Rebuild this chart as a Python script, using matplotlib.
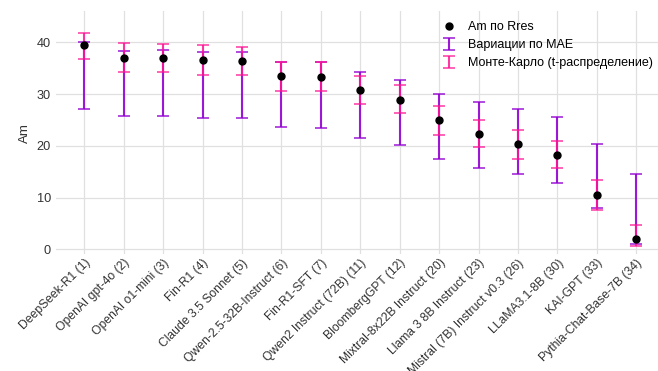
import matplotlib
matplotlib.use("Agg")
import matplotlib.pyplot as plt
import numpy as np

plt.rcParams['font.family'] = ['Liberation Sans', 'DejaVu Sans']

models = ["DeepSeek-R1 (1)", "OpenAI gpt-4o (2)", "OpenAI o1-mini (3)", "Fin-R1 (4)",
          "Claude 3.5 Sonnet (5)", "Qwen-2.5-32B-Instruct (6)", "Fin-R1-SFT (7)",
          "Qwen2 Instruct (72B) (11)", "BloombergGPT (12)", "Mixtral-8x22B Instruct (20)",
          "Llama 3 8B Instruct (23)", "Mistral (7B) Instruct v0.3 (26)", "LLaMA3.1-8B (30)",
          "KAI-GPT (33)", "Pythia-Chat-Base-7B (34)"]

am_rres = [39.5, 36.9, 36.9, 36.5, 36.4, 33.4, 33.3, 30.8, 28.9, 24.9, 22.3, 20.3, 18.2, 10.5, 2.0]

mae_low = [27.2, 25.8, 25.8, 25.4, 25.4, 23.6, 23.4, 21.6, 20.2, 17.4, 15.8, 14.5, 12.9, 8.0, 1.0]
mae_high = [40.1, 38.4, 38.5, 38.1, 38.1, 36.2, 36.2, 34.2, 32.8, 30.0, 28.4, 27.1, 25.6, 20.3, 14.5]

mc_low = [36.7, 34.2, 34.2, 33.6, 33.6, 30.6, 30.6, 28.1, 26.3, 22.0, 19.7, 17.5, 15.7, 7.7, 0.6]
mc_high = [41.8, 39.8, 39.6, 39.4, 39.1, 36.2, 36.1, 33.5, 31.8, 27.7, 24.9, 23.1, 20.9, 13.4, 4.8]

x = np.arange(len(models))
am = np.array(am_rres)

fig = plt.figure(figsize=(6.58, 3.71), dpi=100)
ax = fig.add_axes([0.085, 0.315, 0.915, 0.655])

purple = "#9400D3"
pink = "#FF1493"

ax.errorbar(x, am, yerr=[am - np.array(mae_low), np.array(mae_high) - am],
            fmt='none', ecolor=purple, elinewidth=1.5, capsize=4.5, capthick=1.1,
            alpha=0.9, label="Вариации по MAE", zorder=3)
ax.errorbar(x, am, yerr=[am - np.array(mc_low), np.array(mc_high) - am],
            fmt='none', ecolor=pink, elinewidth=1.5, capsize=4.5, capthick=1.1,
            alpha=0.85, label="Монте-Карло (t-распределение)", zorder=4)
ax.plot(x, am, 'o', color='black', markersize=5, label="Am по Rres", zorder=5)

ax.set_xlim(-0.72, 14.55)
ax.set_ylim(-0.9, 46)
ax.set_yticks([0, 10, 20, 30, 40])
ax.set_xticks(x)
ax.set_xticklabels(models, rotation=45, ha='right', rotation_mode='anchor', fontsize=8.7, color='#333333')
ax.tick_params(axis='both', length=0, colors='#333333')
ax.tick_params(axis='y', labelsize=9.2)
ax.tick_params(axis='x', pad=2)
ax.set_ylabel("Am", fontsize=9.5, color='#333333', labelpad=4)

ax.grid(True, color='#e0e0e0', linewidth=0.9, zorder=0)
ax.set_axisbelow(True)
for s in ax.spines.values():
    s.set_visible(False)

handles, labels = ax.get_legend_handles_labels()
want = ["Am по Rres", "Вариации по MAE", "Монте-Карло (t-распределение)"]
idx = [labels.index(w) for w in want]
ax.legend([handles[i] for i in idx], [labels[i] for i in idx],
          loc='upper right', bbox_to_anchor=(1.0, 0.98), borderaxespad=0.0,
          frameon=False, fontsize=9, handlelength=1.0, handletextpad=1.0,
          labelspacing=0.5)

fig.savefig("out.png", dpi=100)
